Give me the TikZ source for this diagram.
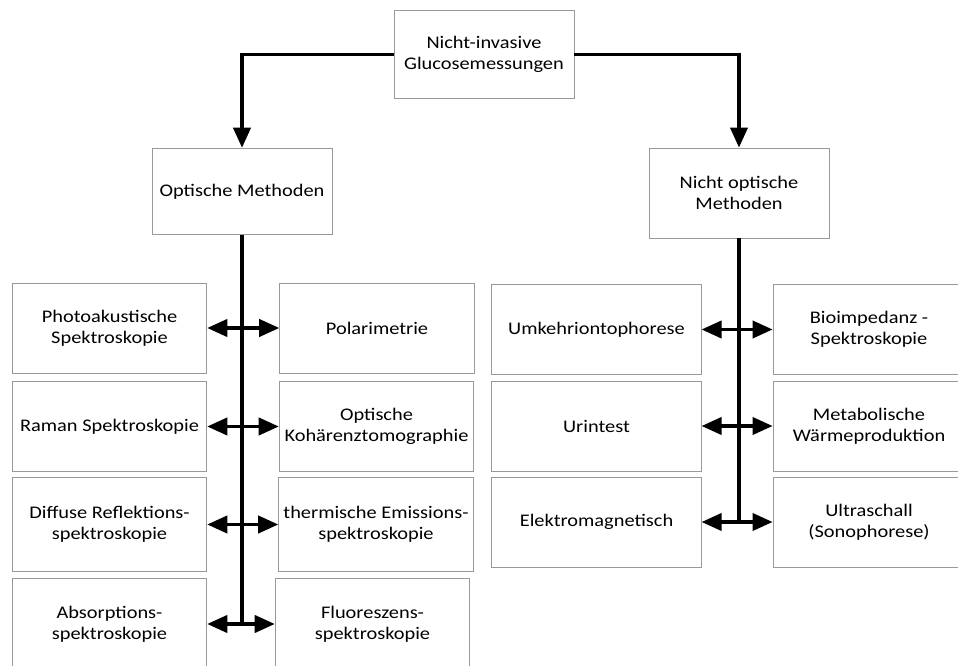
\documentclass[tikz,border=0pt]{standalone}
\usepackage{fontspec}
\setmainfont{Carlito}[FakeStretch=1.15]
\usetikzlibrary{arrows.meta}

\begin{document}
\begin{tikzpicture}[x=0.75pt, y=-0.75pt, font=\fontsize{13.3}{16}\selectfont]
	% Define styles
	\tikzset{
		methodbox/.style={rectangle, draw=gray!80, line width=0.7pt, align=center, minimum width=146pt, minimum height=67.5pt, inner sep=2pt},
		headbox/.style={methodbox, minimum width=135pt, minimum height=66pt},
		wideleft/.style={methodbox, minimum width=157pt},
		wideright/.style={methodbox, minimum width=144pt},
		link/.style={line width=2.3pt, -{Triangle[length=15pt, width=13pt]}},
		twoway/.style={line width=2.3pt, {Triangle[length=15pt, width=13pt]}-{Triangle[length=15pt, width=13pt]}},
		spine/.style={line width=2.3pt}
	}
	\clip (0,0) rectangle (958,666);
	
	% Nodes
	\node[headbox] (root) at (484,54.5) {Nicht-invasive\\Glucosemessungen};
	\node[headbox, minimum height=65pt] (opt) at (242,191.5) {Optische Methoden};
	\node[headbox, minimum height=67.5pt] (nopt) at (739,193) {Nicht optische\\Methoden};
	
	% optical methods
	\node[methodbox] (photo) at (109.5,328) {Photoakustische\\Spektroskopie};
	\node[methodbox] (raman) at (109.5,426.5) {Raman Spektroskopie};
	\node[methodbox, minimum height=71pt] (diffus) at (109.5,524.5) {Diffuse Reflektions-\\spektroskopie};
	\node[methodbox, minimum height=69pt] (absorp) at (109.5,624) {Absorptions-\\spektroskopie};
	\node[methodbox] (polar) at (377,328) {Polarimetrie};
	\node[methodbox] (oct) at (376.5,426.5) {Optische\\Kohärenztomographie};
	\node[methodbox, minimum height=71pt] (thermo) at (376,524.5) {thermische Emissions-\\spektroskopie};
	\node[methodbox, minimum height=69pt] (fluor) at (372.5,624) {Fluoreszens-\\spektroskopie};
	
	% non optical methods
	\node[wideleft] (umkehr) at (596.5,329.5) {Umkehriontophorese};
	\node[wideleft] (urin) at (596.5,426) {Urintest};
	\node[wideleft] (elektro) at (596.5,522) {Elektromagnetisch};
	\node[wideright] (bioimp) at (869,329.5) {Bioimpedanz -\\Spektroskopie};
	\node[wideright] (waerme) at (869,426) {Metabolische\\Wärmeproduktion};
	\node[wideright] (ultra) at (869,522) {Ultraschall\\(Sonophorese)};
	
	\coordinate (optend) at (opt.south |- absorp.east);
	\coordinate (noptend) at (nopt.south |- elektro.east);
	
	% Arrows
	\draw[link] (root.west) -| (opt.north);
	\draw[link] (root.east) -| (nopt.north);
	\draw[spine] (opt.south) -- (optend);
	\draw[spine] (nopt.south) -- (noptend);
	\draw[twoway] (photo.east) -- (polar.west);
	\draw[twoway] (raman.east) -- (oct.west);
	\draw[twoway] (diffus.east) -- (thermo.west);
	\draw[twoway] (absorp.east) -- (fluor.west);
	\draw[twoway] (umkehr.east) -- (bioimp.west);
	\draw[twoway] (urin.east) -- (waerme.west);
	\draw[twoway] (elektro.east) -- (ultra.west);
\end{tikzpicture}
\end{document}
